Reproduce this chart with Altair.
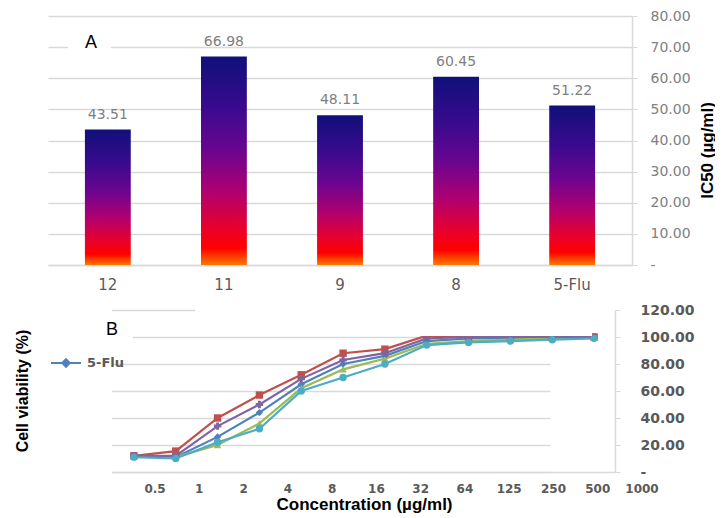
import altair as alt
import pandas as pd

# ---------------- data ----------------
compounds = ["12", "11", "9", "8", "5-Flu"]
ic50 = [43.51, 66.98, 48.11, 60.45, 51.22]

conc_labels = ["0.5", "1", "2", "4", "8", "16", "32", "64", "125", "250", "500", "1000"]
series_names = ["5-Flu", "12", "11", "9", "8"]
series_colors = ["#4F81BD", "#C0504D", "#9BBB59", "#8064A2", "#4BACC6"]
series_shapes = ["diamond", "square", "triangle-up", "cross", "circle"]
viab_5flu = [12, 11, 26, 44, 65, 80, 86, 97, 99, 99, 99, 100]
viab_12 = [12, 15.5, 40, 57, 72, 88, 91, 101, 100, 100, 100, 100]
viab_11 = [12, 11, 20, 36, 62, 76, 84, 95, 97, 98, 99, 100]
viab_9 = [12, 12, 34, 50, 69, 83, 88, 99, 100, 100, 100, 100]
viab_8 = [11, 10, 22, 32, 60, 70, 80, 94, 96, 97, 98, 99]

GRID = "#d9d9d9"

# ---------------- panel A ----------------
dfA = pd.DataFrame({"cmp": compounds, "ic50": ic50})

grad = alt.Gradient(
    gradient="linear",
    stops=[
        alt.GradientStop(color="#10107a", offset=0.0),
        alt.GradientStop(color="#3a0a8e", offset=0.25),
        alt.GradientStop(color="#6a0590", offset=0.45),
        alt.GradientStop(color="#b00070", offset=0.65),
        alt.GradientStop(color="#e8002c", offset=0.82),
        alt.GradientStop(color="#ff0000", offset=0.92),
        alt.GradientStop(color="#ff7a00", offset=1.0),
    ],
    x1=0, x2=0, y1=0, y2=1,
)

xA = alt.X(
    "cmp:N", sort=compounds,
    scale=alt.Scale(paddingInner=0.605, paddingOuter=0.318),
    axis=alt.Axis(title=None, labelAngle=0, labelFont="DejaVu Sans", labelFontSize=15,
                  labelColor="#595959", ticks=False, domainColor=GRID, domainWidth=1.5,
                  labelPadding=12),
)
yA_right = alt.Y(
    "ic50:Q", scale=alt.Scale(domain=[0, 80], nice=False),
    axis=alt.Axis(orient="right", values=list(range(0, 81, 10)),
                  labelExpr="datum.value == 0 ? '-' : format(datum.value, '.2f')",
                  labelFont="DejaVu Sans", labelFontSize=14, labelColor="#808080",
                  gridColor=GRID, gridWidth=1.5, domainColor=GRID, domainWidth=1.5,
                  tickColor=GRID, tickSize=5, labelPadding=13,
                  title="IC50 (µg/ml)", titleFont="Liberation Sans", titleFontSize=17,
                  titleFontWeight="bold", titleColor="black", titleAngle=270,
                  titleX=75, titleY=134, titleAlign="center", titleBaseline="middle"),
)
yA_left = alt.Y(
    "ic50:Q", scale=alt.Scale(domain=[0, 80], nice=False),
    axis=alt.Axis(orient="left", labelExpr="'00000'", labelOpacity=0, labelFont="DejaVu Sans",
                  labelFontSize=10, labelPadding=3, ticks=False, domain=False, grid=False,
                  title=None),
)

bars = alt.Chart(dfA).mark_bar(color=grad).encode(x=xA, y=yA_right)
vals = alt.Chart(dfA).mark_text(baseline="bottom", dy=-8, font="DejaVu Sans", fontSize=14,
                                color="#7f7f7f").encode(
    x=xA, y=yA_left, text=alt.Text("ic50:Q", format=".2f"))

tagA = pd.DataFrame({"t": ["A"]})
boxA = alt.Chart(tagA).mark_rect(color="white").encode(
    x=alt.value(20), x2=alt.value(63), y=alt.value(18), y2=alt.value(44))
txtA = alt.Chart(tagA).mark_text(font="Liberation Sans", fontSize=18, color="black").encode(
    x=alt.value(43), y=alt.value(27), text="t:N")

panelA = alt.layer(bars, vals, boxA, txtA).resolve_axis(y="independent").properties(
    width=584, height=249)

# ---------------- panel B ----------------
rows = []
for name, vs in zip(series_names, [viab_5flu, viab_12, viab_11, viab_9, viab_8]):
    for i, (c, v) in enumerate(zip(conc_labels, vs)):
        rows.append({"series": name, "mk": name, "idx": i, "conc": c, "v": v})
dfB = pd.DataFrame(rows)

B_W = 567
B_X0 = 65  # start of panel B's plotting band inside its view

xB = alt.X(
    "idx:Q", scale=alt.Scale(domain=[-0.5, 11.5], nice=False, zero=False, range=[B_X0, B_W]),
    axis=alt.Axis(title="Concentration (µg/ml)", labels=False, ticks=False, grid=False,
                  domainColor=GRID, domainWidth=1.5, titleFont="Liberation Sans",
                  titleFontSize=17, titleFontWeight="bold", titleColor="black",
                  titlePadding=24),
)
yB = alt.Y(
    "v:Q", scale=alt.Scale(domain=[0, 120], nice=False),
    axis=alt.Axis(orient="right", values=list(range(0, 121, 20)),
                  labelExpr="datum.value == 0 ? '-' : format(datum.value, '.2f')",
                  labelFont="DejaVu Sans", labelFontSize=14, labelFontWeight="bold",
                  labelColor="#595959", gridColor=GRID, gridWidth=1.5, domainColor=GRID,
                  domainWidth=1.5, tickColor=GRID, tickSize=5, labelPadding=20, title=None),
)
leg = alt.Legend(values=["5-Flu"], orient="none", legendX=2, legendY=37, title=None,
                 symbolType="M-1,0H1M0,-0.25L0.25,0L0,0.25L-0.25,0Z", symbolSize=900,
                 symbolStrokeWidth=2, symbolFillColor="#4F81BD",
                 labelFont="DejaVu Sans", labelFontSize=13, labelFontWeight="bold",
                 labelColor="#595959", labelOffset=5, padding=0)
colorB = alt.Color("series:N", scale=alt.Scale(domain=series_names, range=series_colors),
                   legend=leg)

lines = alt.Chart(dfB).mark_line(strokeWidth=2.2).encode(x=xB, y=yB, color=colorB)
points = alt.Chart(dfB).mark_point(filled=True, size=55, opacity=1).encode(
    x=xB, y=yB, color=colorB,
    shape=alt.Shape("mk:N", scale=alt.Scale(domain=series_names, range=series_shapes),
                    legend=None))
curves = alt.layer(lines, points)

dfL = pd.DataFrame({"conc": conc_labels, "pos": list(range(len(conc_labels)))})
xlabels = alt.Chart(dfL).mark_text(font="DejaVu Sans", fontSize=12, fontWeight="bold",
                                   color="#595959", baseline="middle").encode(
    x=alt.X("pos:Q", scale=alt.Scale(domain=[-0.949, 10.39], nice=False, zero=False,
                                     range=[B_X0, B_W]), axis=None),
    y=alt.value(179), text="conc:N")

tagB = pd.DataFrame({"t": ["B"]})
mask = alt.Chart(tagB).mark_rect(color="white").encode(
    x=alt.value(0), x2=alt.value(B_X0 - 1), y=alt.value(-2), y2=alt.value(164))
boxB1 = alt.Chart(tagB).mark_rect(color="white").encode(
    x=alt.value(147), x2=alt.value(544), y=alt.value(-7), y2=alt.value(26))
boxB2 = alt.Chart(tagB).mark_rect(color="white").encode(
    x=alt.value(52), x2=alt.value(85), y=alt.value(7), y2=alt.value(30))
txtB = alt.Chart(tagB).mark_text(font="Liberation Sans", fontSize=18, color="black").encode(
    x=alt.value(64), y=alt.value(20), text="t:N")

panelB = alt.layer(curves, xlabels, mask, boxB1, boxB2, txtB).resolve_scale(
    x="independent").properties(
    width=B_W, height=162,
    title=alt.TitleParams(text="Cell viability (%)", orient="left", anchor="middle",
                          frame="group", offset=17, font="Liberation Sans", fontSize=16,
                          fontWeight="bold", color="black"),
)

chart = alt.vconcat(panelA, panelB, spacing=11).resolve_legend(color="independent").properties(
    padding={"left": 5, "top": 1, "right": 0, "bottom": 6}
).configure_view(stroke=None)

chart.save("out.html", embed_options={"renderer": "svg", "actions": False})
